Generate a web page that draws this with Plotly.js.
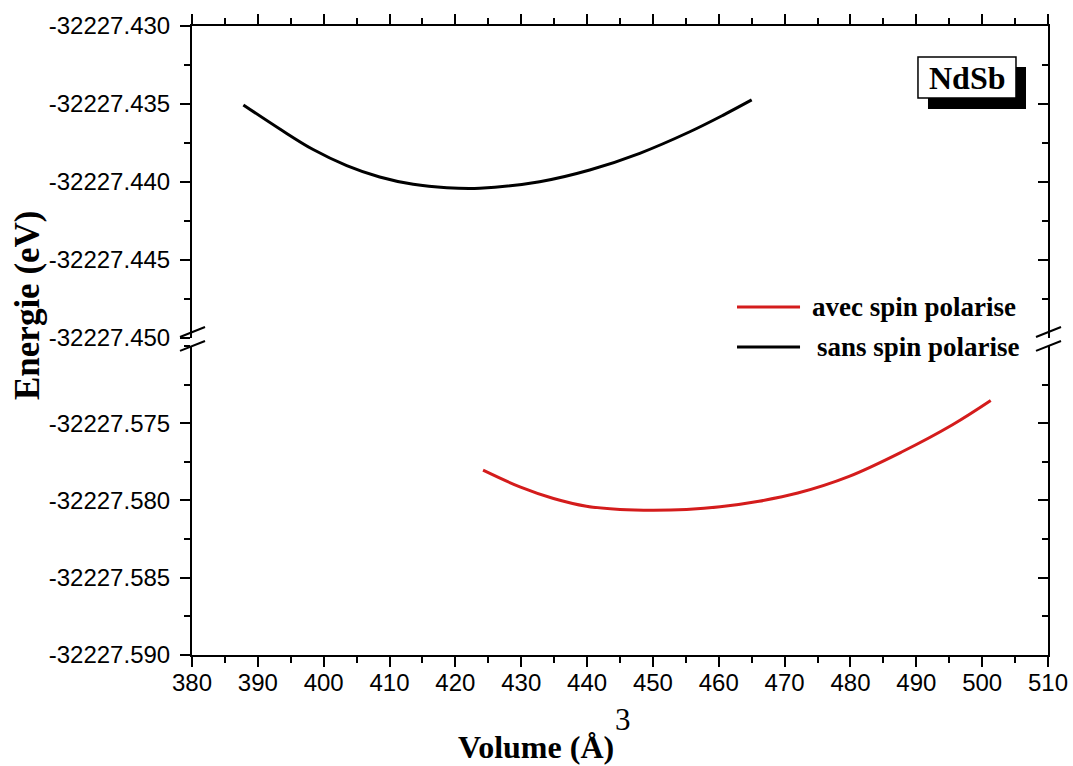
<!DOCTYPE html>
<html>
<head>
<meta charset="utf-8">
<script src="https://cdn.plot.ly/plotly-3.0.1.min.js"></script>
<style>html,body{margin:0;padding:0;background:#fff;}#chart{width:1073px;height:766px;}</style>
</head>
<body>
<div id="chart"></div>
<script>
// Data
const volSans = [387.8, 393.4, 398.4, 403.5, 408.5, 413.6, 418.7, 423.7, 432.8, 440.4, 448.0, 455.6, 460.7, 465.0];
const eSans = [-32227.43506, -32227.43662, -32227.43792, -32227.43895, -32227.43968, -32227.44015, -32227.44037, -32227.44040, -32227.43998, -32227.43923, -32227.43816, -32227.43678, -32227.43571, -32227.43474];
const volAvec = [424.2, 429.8, 434.9, 439.9, 445.0, 450.1, 455.1, 460.2, 466.1, 472.0, 479.8, 487.7, 495.5, 501.3];
const eAvec = [-32227.57804, -32227.57912, -32227.57987, -32227.58037, -32227.58058, -32227.58063, -32227.58058, -32227.58041, -32227.58005, -32227.57952, -32227.57844, -32227.57688, -32227.57510, -32227.57353];

const seriesNames = ["avec spin polarise", "sans spin polarise"];
const xTicks = [380, 390, 400, 410, 420, 430, 440, 450, 460, 470, 480, 490, 500, 510];
const yTopTicks = [-32227.430, -32227.435, -32227.440, -32227.445, -32227.450];
const yTopLabels = ["-32227.430", "-32227.435", "-32227.440", "-32227.445", "-32227.450"];
const yBotTicks = [-32227.575, -32227.580, -32227.585, -32227.590];
const yBotLabels = ["-32227.575", "-32227.580", "-32227.585", "-32227.590"];

const tickFont = {family: "Liberation Sans, Arial, sans-serif", size: 24, color: "#000"};
const serif = "Liberation Serif, Times New Roman, serif";

const traces = [
  {x: volAvec, y: eAvec, xaxis: "x", yaxis: "y", mode: "lines", name: seriesNames[0],
   line: {color: "#d41c1c", width: 3, shape: "spline"}, showlegend: false},
  {x: volSans, y: eSans, xaxis: "x2", yaxis: "y2", mode: "lines", name: seriesNames[1],
   line: {color: "#000", width: 3, shape: "spline"}, showlegend: false},
  // empty traces so the right-hand frame axes are drawn
  {x: [], y: [], xaxis: "x", yaxis: "y3", mode: "lines", showlegend: false, hoverinfo: "skip"},
  {x: [], y: [], xaxis: "x2", yaxis: "y4", mode: "lines", showlegend: false, hoverinfo: "skip"}
];

const commonY = {
  showline: true, linecolor: "#000", linewidth: 2, ticks: "outside", ticklen: 10, tickwidth: 2,
  tickcolor: "#000", showgrid: false, zeroline: false, tickfont: tickFont, ticklabelstandoff: 5,
  minor: {ticks: "outside", ticklen: 6, tickwidth: 2, tickcolor: "#000", dtick: 0.0025, showgrid: false}
};

const layout = {
  width: 1073, height: 766,
  margin: {l: 192, r: 25, t: 26, b: 111},
  paper_bgcolor: "#fff", plot_bgcolor: "#fff",
  showlegend: false,
  xaxis: {
    range: [380, 510], domain: [0, 1], anchor: "y", side: "bottom", showline: true, linecolor: "#000", linewidth: 2,
    ticks: "outside", ticklen: 10, tickwidth: 2, tickcolor: "#000", tickvals: xTicks,
    showgrid: false, zeroline: false, tickfont: tickFont, ticklabelstandoff: -5,
    minor: {ticks: "outside", ticklen: 6, tickwidth: 2, tickcolor: "#000", dtick: 5, showgrid: false}
  },
  xaxis2: {
    range: [380, 510], domain: [0, 1], anchor: "y2", side: "top", showline: true, linecolor: "#000", linewidth: 2,
    ticks: "outside", ticklen: 10, tickwidth: 2, tickcolor: "#000", tickvals: xTicks,
    showticklabels: true, tickfont: {size: 1, color: "rgba(0,0,0,0)"},
    showgrid: false, zeroline: false,
    minor: {ticks: "outside", ticklen: 6, tickwidth: 2, tickcolor: "#000", dtick: 5, showgrid: false}
  },
  yaxis: Object.assign({}, commonY, {
    domain: [0, 0.4913], range: [-32227.590, -32227.570], anchor: "x",
    tickvals: yBotTicks, ticktext: yBotLabels
  }),
  yaxis2: Object.assign({}, commonY, {
    domain: [0.504, 1], range: [-32227.450, -32227.430], anchor: "x2",
    tickvals: yTopTicks, ticktext: yTopLabels
  }),
  yaxis3: Object.assign({}, commonY, {
    overlaying: "y", side: "right", anchor: "x", range: [-32227.590, -32227.570],
    ticks: "inside", tickvals: yBotTicks, showticklabels: false,
    minor: {ticks: "inside", ticklen: 6, tickwidth: 2, tickcolor: "#000", dtick: 0.0025, showgrid: false}
  }),
  yaxis4: Object.assign({}, commonY, {
    overlaying: "y2", side: "right", anchor: "x2", range: [-32227.450, -32227.430],
    ticks: "inside", tickvals: yTopTicks, showticklabels: false,
    minor: {ticks: "inside", ticklen: 6, tickwidth: 2, tickcolor: "#000", dtick: 0.0025, showgrid: false}
  }),
  shapes: [
    // axis break marks
    {type: "line", xref: "paper", yref: "paper", x0: -0.014, y0: 0.5056, x1: 0.0152, y1: 0.5215, line: {color: "#000", width: 2}},
    {type: "line", xref: "paper", yref: "paper", x0: -0.014, y0: 0.4834, x1: 0.0152, y1: 0.4992, line: {color: "#000", width: 2}},
    {type: "line", xref: "paper", yref: "paper", x0: 0.986, y0: 0.5056, x1: 1.0152, y1: 0.5215, line: {color: "#000", width: 2}},
    {type: "line", xref: "paper", yref: "paper", x0: 0.986, y0: 0.4834, x1: 1.0152, y1: 0.4992, line: {color: "#000", width: 2}},
    // legend lines
    {type: "line", xref: "paper", yref: "paper", x0: 0.6367, x1: 0.7103, y0: 0.5533, y1: 0.5533, line: {color: "#d41c1c", width: 3}},
    {type: "line", xref: "paper", yref: "paper", x0: 0.6367, x1: 0.7103, y0: 0.4897, y1: 0.4897, line: {color: "#000", width: 3}},
    // NdSb label shadow and box
    {type: "rect", xref: "paper", yref: "paper", x0: 0.8598, x1: 0.9743, y0: 0.8680, y1: 0.9348, fillcolor: "#000", line: {width: 0}},
    {type: "rect", xref: "paper", yref: "paper", x0: 0.8481, x1: 0.9626, y0: 0.8855, y1: 0.9507, fillcolor: "#fff", line: {color: "#000", width: 1.5}}
  ],
  annotations: [
    {xref: "paper", yref: "paper", x: 0.9054, y: 0.9181, text: "<b>NdSb</b>", showarrow: false,
     font: {family: serif, size: 32, color: "#000"}, xanchor: "center", yanchor: "middle"},
    {xref: "paper", yref: "paper", x: 0.722, y: 0.5533, text: "<b>" + seriesNames[0] + "</b>", showarrow: false,
     font: {family: serif, size: 27, color: "#000"}, xanchor: "left", yanchor: "middle"},
    {xref: "paper", yref: "paper", x: 0.7278, y: 0.4897, text: "<b>" + seriesNames[1] + "</b>", showarrow: false,
     font: {family: serif, size: 27, color: "#000"}, xanchor: "left", yanchor: "middle"},
    {xref: "paper", yref: "paper", x: 0.4019, y: -0.1463, text: "<b>Volume (Å)</b>", showarrow: false,
     font: {family: serif, size: 32, color: "#000"}, xanchor: "center", yanchor: "middle"},
    {xref: "paper", yref: "paper", x: 0.5035, y: -0.1033, text: "3", showarrow: false,
     font: {family: serif, size: 31, color: "#000"}, xanchor: "center", yanchor: "middle"},
    {xref: "paper", yref: "paper", x: -0.1928, y: 0.5564, text: "<b>Energie (eV)</b>", showarrow: false, textangle: -90,
     font: {family: serif, size: 35, color: "#000"}, xanchor: "center", yanchor: "middle"}
  ]
};

Plotly.newPlot("chart", traces, layout, {displayModeBar: false, responsive: false});
</script>
</body>
</html>
